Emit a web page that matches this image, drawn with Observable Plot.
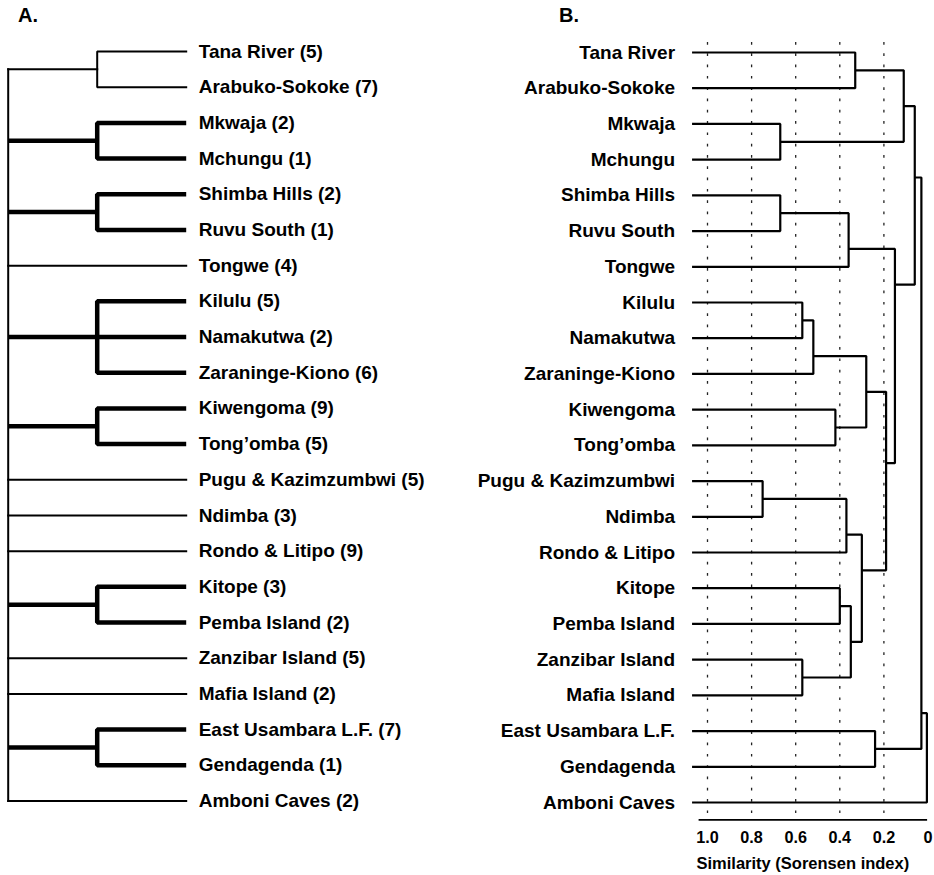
<!DOCTYPE html>
<html>
<head>
<meta charset="utf-8">
<script src="https://cdn.jsdelivr.net/npm/d3@7"></script>
<script src="https://cdn.jsdelivr.net/npm/@observablehq/plot@0.6"></script>
<style>
  html, body { margin: 0; padding: 0; background: #fff; }
  #figure {
    position: relative; width: 934px; height: 875px; overflow: hidden; background: #fff;
    font-family: "Liberation Sans", Arial, Helvetica, sans-serif; color: #000;
  }
  .panel { position: absolute; top: 0; }
  .tag { position: absolute; top: 5px; font-size: 20px; line-height: 20px; font-weight: bold; }
</style>
</head>
<body>
<div id="figure">
  <div class="panel" id="panelA" style="left:0px"></div>
  <div class="panel" id="panelB" style="left:460px"></div>
  <div class="tag" style="left:18px">A.</div>
  <div class="tag" style="left:559px">B.</div>
</div>
<script>
// Sites, top to bottom, with the number of samples per site (panel A)
const sites = [
  "Tana River", "Arabuko-Sokoke", "Mkwaja", "Mchungu", "Shimba Hills", "Ruvu South",
  "Tongwe", "Kilulu", "Namakutwa", "Zaraninge-Kiono", "Kiwengoma", "Tong’omba",
  "Pugu & Kazimzumbwi", "Ndimba", "Rondo & Litipo", "Kitope", "Pemba Island",
  "Zanzibar Island", "Mafia Island", "East Usambara L.F.", "Gendagenda", "Amboni Caves"
];
const sampleCounts = [5, 7, 2, 1, 2, 1, 4, 5, 2, 6, 9, 5, 5, 3, 9, 3, 2, 5, 2, 7, 1, 2];

// Panel A: clades of the consensus tree; strongly supported clades drawn heavy
const cladeMembers = [
  ["Tana River", "Arabuko-Sokoke"],
  ["Mkwaja", "Mchungu"],
  ["Shimba Hills", "Ruvu South"],
  ["Kilulu", "Namakutwa", "Zaraninge-Kiono"],
  ["Kiwengoma", "Tong’omba"],
  ["Kitope", "Pemba Island"],
  ["East Usambara L.F.", "Gendagenda"]
];
const cladeStrong = [false, true, true, true, true, true, true];

// Panel B: agglomeration steps (left, right, Sorensen similarity at joining); "#k" = step k
const mergeLeft = [
  "Tana River", "Mkwaja", "#0", "Shimba Hills", "#3", "Kilulu", "#5", "Kiwengoma", "#6",
  "Pugu & Kazimzumbwi", "#9", "Kitope", "Zanzibar Island", "#11", "#10", "#8", "#4", "#2",
  "East Usambara L.F.", "#17", "#19"
];
const mergeRight = [
  "Arabuko-Sokoke", "Mchungu", "#1", "Ruvu South", "Tongwe", "Namakutwa", "Zaraninge-Kiono",
  "Tong’omba", "#7", "Ndimba", "Rondo & Litipo", "Pemba Island", "Mafia Island", "#12", "#13",
  "#14", "#15", "#16", "Gendagenda", "#18", "Amboni Caves"
];
const mergeSimilarity = [
  0.33, 0.67, 0.11, 0.67, 0.36, 0.57, 0.52, 0.42, 0.28, 0.75, 0.37, 0.40, 0.57, 0.35, 0.30,
  0.19, 0.15, 0.06, 0.24, 0.03, 0.005
];
const leafSimilarity = 1.07; // leaf stubs start just beyond full similarity
const similarityTicks = [1, 0.8, 0.6, 0.4, 0.2, 0];
const similarityTickLabels = ["1.0", "0.8", "0.6", "0.4", "0.2", "0"];
const gridValues = [1, 0.8, 0.6, 0.4, 0.2];
const axisTitle = "Similarity (Sorensen index)";

const font = "Liberation Sans, Arial, Helvetica, sans-serif";
const rowOf = new Map(sites.map((s, i) => [s, i]));

// ---- Panel A: rectangular cladogram (depth 0 = root, 1 = clade, 2 = tips)
const pathsA = [];
let pathId = 0;
function addPath(list, points, strong) {
  const k = pathId++;
  for (const [x, y] of points) list.push({x, y, id: k, strong});
}
const inClade = new Set(cladeMembers.flat());
const stemRows = [];
cladeMembers.forEach((members, c) => {
  const rows = members.map((m) => rowOf.get(m));
  const first = d3.min(rows), last = d3.max(rows), mid = (first + last) / 2;
  const strong = cladeStrong[c];
  addPath(pathsA, [[2, first], [1, first], [1, last], [2, last]], strong);
  rows.filter((r) => r !== first && r !== last).forEach((r) => addPath(pathsA, [[1, r], [2, r]], strong));
  addPath(pathsA, [[0, mid], [1, mid]], strong);
  stemRows.push(mid);
});
sites.forEach((s, i) => {
  if (!inClade.has(s)) { addPath(pathsA, [[0, i], [2, i]], false); stemRows.push(i); }
});
addPath(pathsA, [[0, d3.min(stemRows)], [0, d3.max(stemRows)]], false);

const plotA = Plot.plot({
  width: 460,
  height: 875,
  x: {domain: [0, 2], range: [7.7, 185.7], axis: null},
  y: {domain: [0, 21], range: [51, 800.5], axis: null},
  style: {fontFamily: font, background: "transparent", overflow: "visible"},
  marks: [
    Plot.line(pathsA.filter((d) => !d.strong), {
      x: "x", y: "y", z: "id", stroke: "#000", strokeWidth: 2,
      strokeLinejoin: "miter", strokeLinecap: "square"
    }),
    Plot.line(pathsA.filter((d) => d.strong), {
      x: "x", y: "y", z: "id", stroke: "#000", strokeWidth: 4.5,
      strokeLinejoin: "miter", strokeLinecap: "butt"
    }),
    Plot.text(sites, {
      x: () => 2, y: (d, i) => i, dx: 12.5,
      text: (d, i) => `${d} (${sampleCounts[i]})`,
      textAnchor: "start", fontSize: 19, fontWeight: "bold", fill: "#000"
    })
  ]
});
document.getElementById("panelA").appendChild(plotA);

// ---- Panel B: UPGMA-style dendrogram on Sorensen similarity
const nodes = [];
function nodeInfo(ref) {
  if (ref.startsWith("#")) return nodes[+ref.slice(1)];
  const r = rowOf.get(ref);
  return {x: leafSimilarity, y: r, first: r, last: r};
}
const pathsB = [];
mergeLeft.forEach((leftRef, k) => {
  const a = nodeInfo(leftRef), b = nodeInfo(mergeRight[k]);
  const s = mergeSimilarity[k];
  // a join sits in the gap between the two subtrees it connects
  nodes[k] = {x: s, y: (a.last + b.first) / 2, first: a.first, last: b.last};
  addPath(pathsB, [[a.x, a.y], [s, a.y], [s, b.y], [b.x, b.y]], false);
});

const plotB = Plot.plot({
  width: 474,
  height: 875,
  marginLeft: 239,
  marginRight: 8.3,
  marginTop: 42,
  marginBottom: 55.7,
  x: {domain: [1, 0], range: [247, 467.5], axis: null},
  y: {domain: [0, 21], range: [52, 802], axis: null},
  style: {fontFamily: font, background: "transparent", overflow: "visible"},
  marks: [
    Plot.ruleX(gridValues, {stroke: "#222", strokeWidth: 1.3, strokeDasharray: "2.7,8.6"}),
    Plot.frame({anchor: "bottom", stroke: "#000", strokeWidth: 1.8}),
    // tick labels of the similarity axis, hung below the axis line
    Plot.text(similarityTicks, {
      x: (d) => d, frameAnchor: "bottom", dy: 12, lineAnchor: "top",
      text: (d, i) => similarityTickLabels[i],
      fontSize: 16.2, fontWeight: "bold", fill: "#000"
    }),
    Plot.text([axisTitle], {
      frameAnchor: "bottom", dx: -10, dy: 44.4, lineAnchor: "middle",
      fontSize: 16.5, fontWeight: "bold", fill: "#000"
    }),
    Plot.line(pathsB, {
      x: "x", y: "y", z: "id", stroke: "#000", strokeWidth: 2.2,
      strokeLinejoin: "miter", strokeLinecap: "butt"
    }),
    Plot.text(sites, {
      x: () => leafSimilarity, y: (d, i) => i, dx: -17,
      textAnchor: "end", fontSize: 19, fontWeight: "bold", fill: "#000"
    })
  ]
});
document.getElementById("panelB").appendChild(plotB);
</script>
</body>
</html>
